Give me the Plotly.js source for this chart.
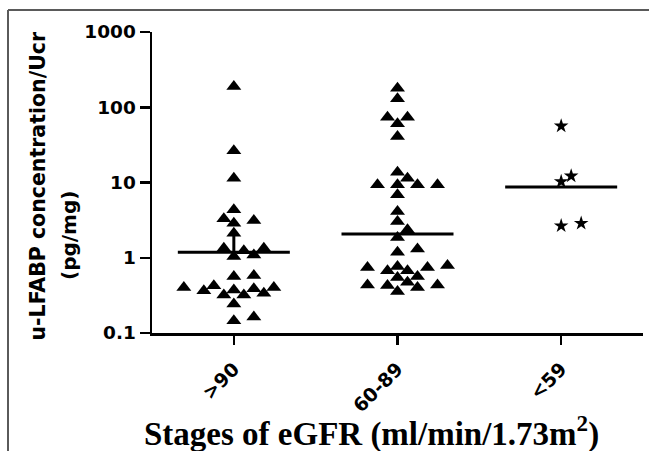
<!DOCTYPE html>
<html><head><meta charset="utf-8">
<script src="https://cdn.plot.ly/plotly-3.0.1.min.js"></script>
<style>html,body{margin:0;padding:0;background:#fff;} #chart{width:649px;height:451px;}</style>
</head><body><div id="chart"></div>
<script>
// ---- data ----
const categories = [">90", "60-89", "<59"];
const gt90 = [189, 26.4, 11.4, 4.34, 3.12, 2.88, 3.29, 2.12, 1.34, 1.09, 1.04, 1.24, 1.34,
  0.562, 0.580, 0.374, 0.402, 0.386, 0.402, 0.423, 0.321, 0.321, 0.337, 0.363, 0.242, 0.146, 0.163];
const from60to89 = [179.5, 129.7, 73.9, 73.9, 60.4, 40.9, 13.7, 11.4, 9.32, 9.32, 9.32, 9.32, 6.86,
  4.12, 3.03, 2.35, 1.86, 1.18, 1.31, 0.741, 0.670, 0.788, 0.670, 0.741, 0.764, 0.545, 0.562,
  0.436, 0.427, 0.472, 0.356, 0.402, 0.436];
const lt59 = [56.4, 12.2, 10.3, 2.66, 2.87];
const centerLine = [1.18, 2.07, 8.7];
const upperBar = [2.12, null, null];
const yTickVals = [0.1, 1, 10, 100, 1000];
const yTickText = ["0.1", "1", "10", "100", "1000"];

// ---- layout geometry ----
const W = 649, H = 451, M = {l: 152, r: 6, t: 32, b: 118};
const plotW = W - M.l - M.r, plotH = H - M.t - M.b;
const xRange = [-0.5, 2.5], yRange = [-1, 3];
const pxPerCat = plotW / (xRange[1] - xRange[0]);
const pxPerDec = plotH / (yRange[1] - yRange[0]);

// simple beeswarm: spread points sideways so markers do not sit on each other
function swarm(values, idx, step, rx, ry) {
  const order = values.map((v, i) => i).sort((a, b) => values[a] - values[b]);
  const placed = [], xs = new Array(values.length);
  for (const i of order) {
    const py = Math.log10(values[i]) * pxPerDec;
    for (let k = 0; k < 60; k++) {
      const off = k === 0 ? 0 : (k % 2 ? 1 : -1) * Math.ceil(k / 2) * step;
      const ok = placed.every(p => ((p.x - off) / rx) ** 2 + ((p.y - py) / ry) ** 2 >= 1);
      if (ok) { placed.push({x: off, y: py}); xs[i] = idx + off / pxPerCat; break; }
    }
  }
  return xs;
}

const groups = [gt90, from60to89, lt59];
const symbols = ["triangle-up", "triangle-up", "star"];
const sizes = [13, 13, 11];
const traces = [];
groups.forEach((vals, g) => {
  traces.push({
    type: "scatter", mode: "markers",
    x: swarm(vals, g, 10, 11, 10), y: vals,
    marker: {symbol: symbols[g], size: sizes[g], color: "#000", line: {width: 0}},
    hoverinfo: "y", showlegend: false
  });
});
const hw = 56 / pxPerCat;
centerLine.forEach((c, g) => {
  traces.push({
    type: "scatter", mode: "lines", x: [g - hw, g + hw], y: [c, c],
    line: {color: "#000", width: 3}, hoverinfo: "skip", showlegend: false
  });
  if (upperBar[g] != null) {
    traces.push({
      type: "scatter", mode: "markers", x: [g], y: [c],
      marker: {size: 1, opacity: 0},
      error_y: {type: "data", symmetric: false, array: [upperBar[g] - c], arrayminus: [0],
        width: 0, thickness: 3, color: "#000"},
      hoverinfo: "skip", showlegend: false
    });
  }
});

const sans = "DejaVu Sans";
const px2x = p => (p - M.l) / plotW;
const px2y = p => (H - M.b - p) / plotH;

const layout = {
  width: W, height: H, margin: M,
  paper_bgcolor: "#fff", plot_bgcolor: "#fff",
  xaxis: {
    range: xRange, tickvals: [0, 1, 2], ticktext: categories, tickangle: -45,
    showline: true, linewidth: 2.5, linecolor: "#000", ticks: "outside", ticklen: 9,
    tickwidth: 2.5, tickcolor: "#000", showgrid: false, zeroline: false,
    ticklabelstandoff: 6,
    tickfont: {family: sans, size: 19, color: "#000", weight: "bold"}
  },
  yaxis: {
    type: "log", range: yRange, tickvals: yTickVals, ticktext: yTickText,
    showline: true, linewidth: 2.5, linecolor: "#000", ticks: "outside", ticklen: 10,
    tickwidth: 2.5, tickcolor: "#000", showgrid: false, zeroline: false,
    tickfont: {family: sans, size: 18.5, color: "#000", weight: "bold"}
  },
  annotations: [
    {text: "u-LFABP concentration/Ucr", textangle: -90, xref: "paper", yref: "paper",
     x: px2x(37), y: px2y(186.5), xanchor: "center", yanchor: "middle", showarrow: false,
     font: {family: sans, size: 20.5, color: "#000", weight: "bold"}},
    {text: "(pg/mg)", textangle: -90, xref: "paper", yref: "paper",
     x: px2x(69), y: px2y(236), xanchor: "center", yanchor: "middle", showarrow: false,
     font: {family: sans, size: 20, color: "#000", weight: "bold"}},
    {text: "Stages of eGFR (ml/min/1.73m<sup>2</sup>)", xref: "paper", yref: "paper",
     x: px2x(371), y: px2y(431), xanchor: "center", yanchor: "middle", showarrow: false,
     font: {family: "Liberation Serif", size: 33, color: "#000", weight: "bold"}}
  ],
  shapes: [
    {type: "line", xref: "paper", yref: "paper", x0: px2x(8), x1: px2x(8), y0: px2y(10), y1: px2y(470),
     line: {color: "#5a5a5a", width: 2}},
    {type: "line", xref: "paper", yref: "paper", x0: px2x(8), x1: px2x(670), y0: px2y(10), y1: px2y(10),
     line: {color: "#5a5a5a", width: 2}}
  ]
};

Plotly.newPlot("chart", traces, layout, {displayModeBar: false, staticPlot: true});
</script></body></html>
